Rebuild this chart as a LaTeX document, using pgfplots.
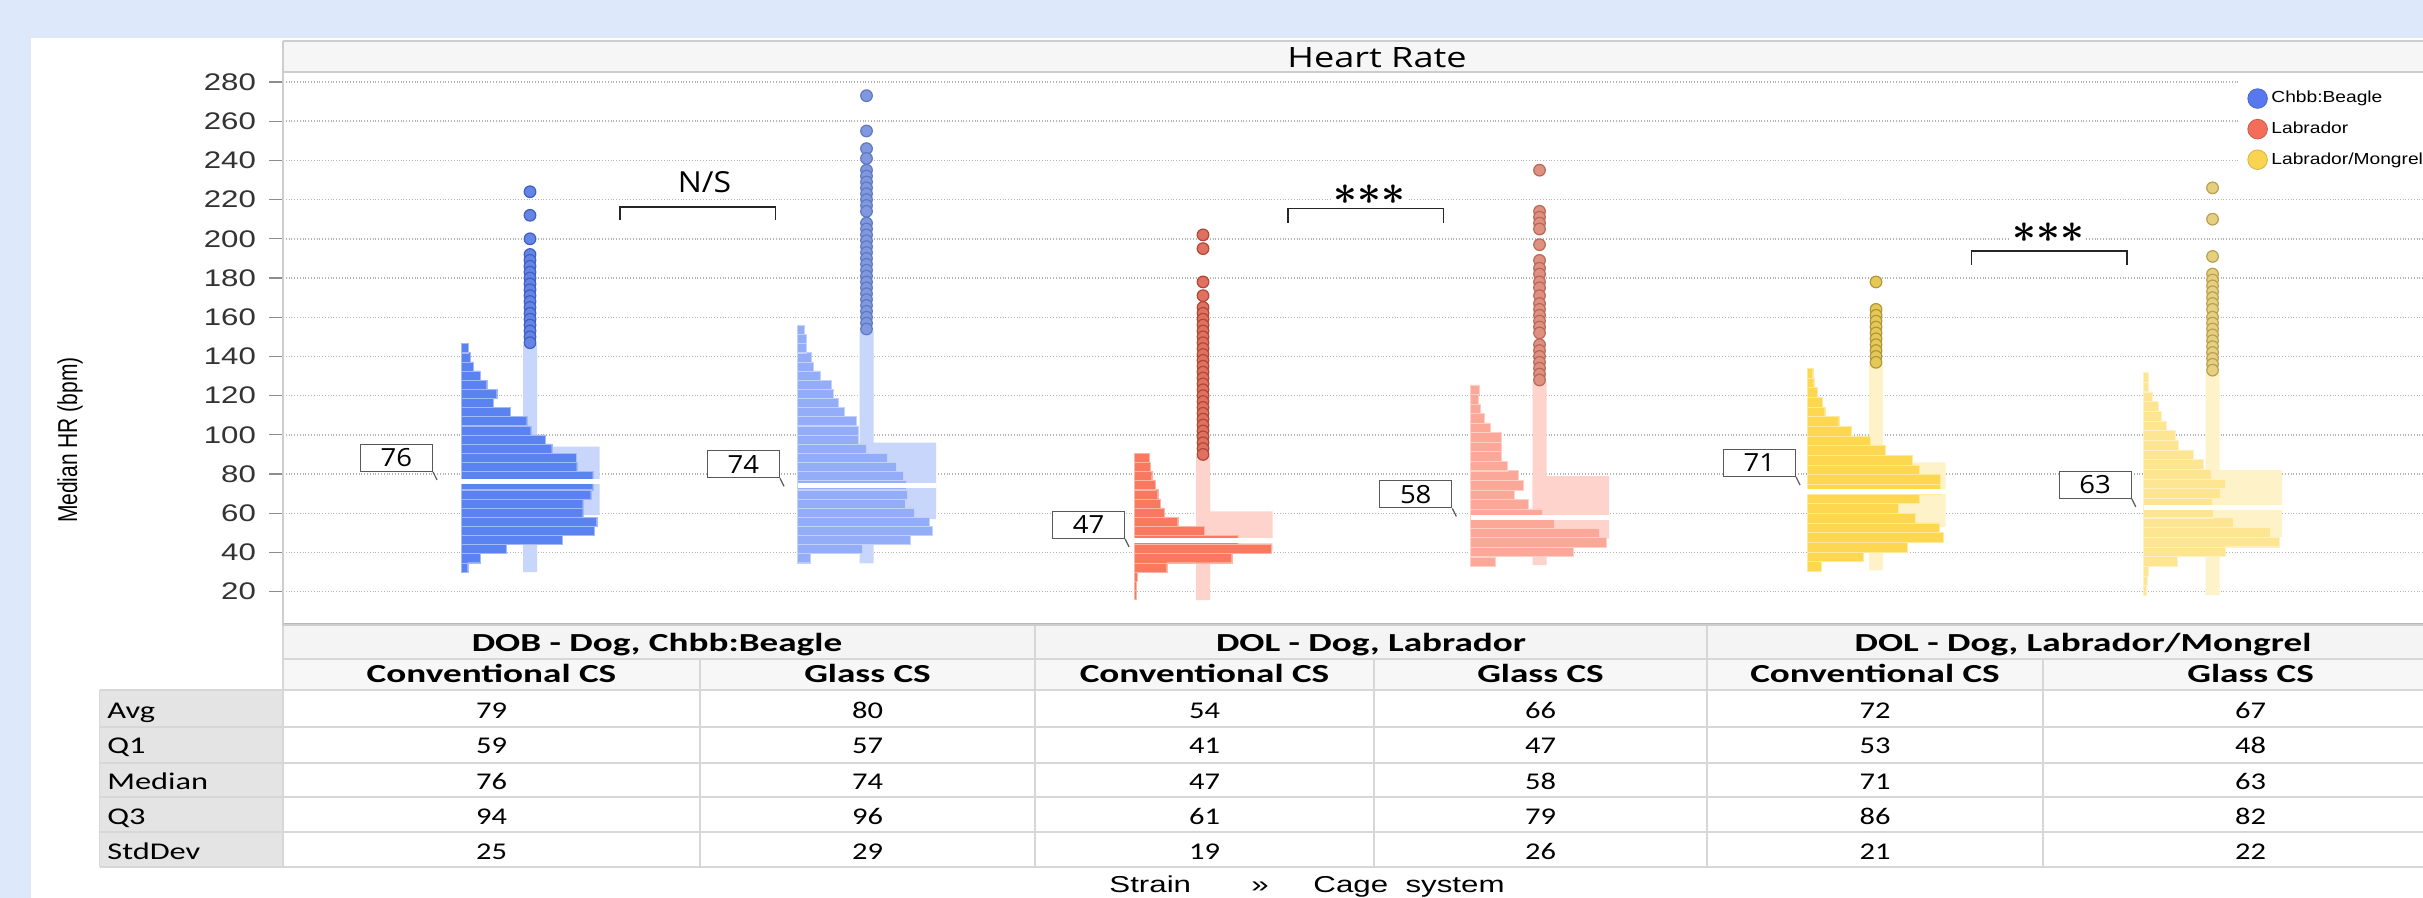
\documentclass[border=0pt]{standalone}
\usepackage{pgfplots}
\pgfplotsset{compat=1.18}
\usepackage{pgfplotstable}
\usepackage{fontspec}
\setmainfont{Liberation Sans}
\newfontfamily\osans{Open Sans}
\newfontfamily\calib{Carlito}
\newcommand{\hs}[2][1.35]{\scalebox{#1}[1]{#2}}
\newcommand{\fs}[1]{\fontsize{#1}{#1}\selectfont}

\definecolor{panelblue}{RGB}{221,233,251}
\definecolor{gridc}{RGB}{180,180,180}
\definecolor{framec}{RGB}{205,205,205}
\definecolor{titlec}{RGB}{246,246,246}
\definecolor{hdrc}{RGB}{244,244,244}
\definecolor{subc}{RGB}{247,247,247}
\definecolor{rowlab}{RGB}{228,228,228}
\definecolor{tline}{RGB}{215,215,215}
\definecolor{bCbar}{RGB}{90,130,240}
\definecolor{bGbar}{RGB}{148,173,248}
\definecolor{bBox}{RGB}{201,214,251}
\definecolor{bCpt}{RGB}{101,133,230}
\definecolor{bCptd}{RGB}{64,96,192}
\definecolor{bGpt}{RGB}{128,152,224}
\definecolor{bGptd}{RGB}{96,120,192}
\definecolor{lCbar}{RGB}{248,120,96}
\definecolor{lGbar}{RGB}{251,168,152}
\definecolor{lBox}{RGB}{253,211,203}
\definecolor{lCpt}{RGB}{224,112,96}
\definecolor{lCptd}{RGB}{176,72,56}
\definecolor{lGpt}{RGB}{224,144,128}
\definecolor{lGptd}{RGB}{184,104,88}
\definecolor{mCbar}{RGB}{253,215,79}
\definecolor{mGbar}{RGB}{254,229,146}
\definecolor{mBox}{RGB}{254,242,200}
\definecolor{mCpt}{RGB}{230,200,88}
\definecolor{mCptd}{RGB}{176,152,56}
\definecolor{mGpt}{RGB}{230,208,128}
\definecolor{mGptd}{RGB}{184,160,80}
\definecolor{legB}{RGB}{88,120,240}
\definecolor{legL}{RGB}{242,110,90}
\definecolor{legM}{RGB}{250,212,80}

\pgfplotstableread{
c l
32.4 6.7
37.1 19
41.7 45
46.4 101.3
51.0 133
55.7 135.7
60.4 121.7
65.0 121.7
69.7 129.7
74.3 131.7
79.0 131.7
83.7 115.7
88.3 115
93.0 90.7
97.6 84
102.3 69.7
107.0 65.7
111.6 49
116.3 32.3
120.9 35.7
125.6 25.7
130.3 19
134.9 12.3
139.6 9
144.2 7.3
}\hA
\pgfplotstableread{
c l
37.1 12.3
41.7 65
46.4 112.3
51.0 135
55.7 131.7
60.4 116.7
65.0 107.7
69.7 110
74.3 108.3
79.0 105.7
83.7 98.3
88.3 90
93.0 69
97.6 61
102.3 61
107.0 58.3
111.6 46.7
116.3 41
120.9 35.7
125.6 34
130.3 22.3
134.9 15.7
139.6 13.3
144.2 9
148.9 9
153.6 6.7
}\hB
\pgfplotstableread{
c l
18.4 2
23.1 2.5
27.7 3
32.4 32.7
37.1 97.7
41.7 137
46.4 103.7
51.0 70.3
55.7 43.7
60.4 30.3
65.0 26
69.7 23.7
74.3 21
79.0 17.7
83.7 16
88.3 15
}\hC
\pgfplotstableread{
c l
35.4 24.7
40.3 102.3
45.2 135.7
50.0 129
54.9 84
59.8 71.3
64.7 57.3
69.5 43.3
74.4 52.3
79.3 48
84.1 36.7
89.0 30.7
93.9 30.7
98.8 30.7
103.7 20
108.5 14
113.4 10
118.3 8
123.1 9
}\hD
\pgfplotstableread{
c l
32.9 14.3
37.8 56
42.8 100
47.7 135.7
52.6 132.3
57.6 107.7
62.5 91
67.4 111.7
72.3 133.3
77.3 133.3
82.2 111.7
87.1 105
92.1 78.3
97.0 63.3
101.9 44.3
106.9 31.7
111.8 17.7
116.7 15
121.7 10
126.6 6.7
131.5 5.7
}\hE
\pgfplotstableread{
c l
20.7 2.3
25.6 3.3
30.5 5
35.5 33.3
40.4 81.7
45.4 135.7
50.3 126.7
55.3 90
60.2 70
65.2 69
70.1 76.7
75.0 81.7
80.0 67.7
84.9 60
89.9 50
94.8 34.3
99.8 31.7
104.7 22.3
109.6 17.7
114.6 15
119.5 9
124.5 5
129.4 4.3
}\hF

\pgfplotsset{
  geom/.style={at={(141.5pt,136.5pt)}, anchor=south west, scale only axis,
     width=1078.5pt, height=276.5pt, ymin=3, ymax=285.1},
  grp/.style={geom, hide axis, clip=false},
  hist/.style={xbar, bar shift=0pt, bar width=#1, line width=0.2pt},
  boxp/.style={fill=#1, draw=none},
  pts/.style 2 args={only marks, mark=*, mark size=2.9pt,
     mark options={fill=#1, draw=#2, line width=0.6pt}},
  medl/.style={white, line width=2.6pt},
}
\tikzset{
  lbl/.style={draw=black!65, line width=0.6pt, fill=white, minimum width=36pt,
     minimum height=13.5pt, inner sep=0pt, font=\osans\fs{12.5}, anchor=south east},
  stars/.style={fill=white, inner sep=1pt, font=\fs{22}\boldmath},
}

\begin{document}
\begin{tikzpicture}
\path[use as bounding box] (0pt,0pt) rectangle (1211.5pt,449pt);
\begin{scope}
\clip (0pt,0pt) rectangle (1211.5pt,449pt);
\begin{scope}[x=0.5pt,y=0.5pt]
  \fill[panelblue] (0,0) rectangle (2423,898);
  \fill[white] (31,0) rectangle (2423,860);
  \fill[titlec] (283,826) rectangle (2440,857);
  \draw[framec, line width=1.2pt] (283,857) -- (2440,857);
  \draw[framec, line width=0.8pt] (283,826) -- (283,857);
  \node[font=\osans\fs{14}, anchor=base] at (1377,830) {\hs[1.29]{Heart Rate}};
  \node[rotate=90, font=\fs{10.5}] at (70,458) {\scalebox{1}[1.3]{Median HR (bpm)}};
  \fill[hdrc] (283,239) rectangle (2440,273);
  \fill[subc] (283,208) rectangle (2440,239);
  \fill[rowlab] (99.5,31) rectangle (283,208);
  \draw[black!28, line width=1.5pt] (283,273) -- (2440,273);
  \draw[tline, line width=1pt] (283,239) -- (2440,239);
  \draw[tline, line width=1.2pt] (99.5,208) -- (2440,208);
  \foreach \yy in {171,135,101,66,31} \draw[tline, line width=1.2pt] (99.5,\yy) -- (2440,\yy);
  \foreach \xx in {1035,1707} \draw[tline, line width=0.8pt] (\xx,273) -- (\xx,31);
  \foreach \xx in {700,1374,2043} \draw[tline, line width=0.8pt] (\xx,239) -- (\xx,31);
  \draw[tline, line width=0.8pt] (99.5,208) -- (99.5,31);
  \draw[tline, line width=0.8pt] (283,273) -- (283,31);
  \begin{scope}[every node/.style={anchor=base, font=\calib\bfseries\fs{13}}]
    \node at (657,246) {\hs[1.43]{DOB - Dog, Chbb:Beagle}};
    \node at (1371,246) {\hs[1.43]{DOL - Dog, Labrador}};
    \node at (2083,246) {\hs[1.43]{DOL - Dog, Labrador/Mongrel}};
    \node at (491.5,215.7) {\hs[1.43]{Conventional CS}};
    \node at (867.5,215.7) {\hs[1.43]{Glass CS}};
    \node at (1204.5,215.7) {\hs[1.43]{Conventional CS}};
    \node at (1540.5,215.7) {\hs[1.43]{Glass CS}};
    \node at (1875,215.7) {\hs[1.43]{Conventional CS}};
    \node at (2250.6,215.7) {\hs[1.43]{Glass CS}};
  \end{scope}
  \begin{scope}[every node/.style={anchor=base west, font=\calib\fs{12}, inner sep=0pt}]
    \node at (107,179) {\hs[1.35]{Avg}};
    \node at (107,144) {\hs[1.35]{Q1}};
    \node at (107,108.7) {\hs[1.35]{Median}};
    \node at (107,73.7) {\hs[1.35]{Q3}};
    \node at (107,38.7) {\hs[1.35]{StdDev}};
  \end{scope}
  \begin{scope}[every node/.style={anchor=base, font=\calib\fs{12}, inner sep=0pt}]
    \node at (491.5,179) {\hs[1.27]{79}};
    \node at (867.5,179) {\hs[1.27]{80}};
    \node at (1204.5,179) {\hs[1.27]{54}};
    \node at (1540.5,179) {\hs[1.27]{66}};
    \node at (1875,179) {\hs[1.27]{72}};
    \node at (2250.6,179) {\hs[1.27]{67}};
    \node at (491.5,144) {\hs[1.27]{59}};
    \node at (867.5,144) {\hs[1.27]{57}};
    \node at (1204.5,144) {\hs[1.27]{41}};
    \node at (1540.5,144) {\hs[1.27]{47}};
    \node at (1875,144) {\hs[1.27]{53}};
    \node at (2250.6,144) {\hs[1.27]{48}};
    \node at (491.5,108.7) {\hs[1.27]{76}};
    \node at (867.5,108.7) {\hs[1.27]{74}};
    \node at (1204.5,108.7) {\hs[1.27]{47}};
    \node at (1540.5,108.7) {\hs[1.27]{58}};
    \node at (1875,108.7) {\hs[1.27]{71}};
    \node at (2250.6,108.7) {\hs[1.27]{63}};
    \node at (491.5,73.7) {\hs[1.27]{94}};
    \node at (867.5,73.7) {\hs[1.27]{96}};
    \node at (1204.5,73.7) {\hs[1.27]{61}};
    \node at (1540.5,73.7) {\hs[1.27]{79}};
    \node at (1875,73.7) {\hs[1.27]{86}};
    \node at (2250.6,73.7) {\hs[1.27]{82}};
    \node at (491.5,38.7) {\hs[1.27]{25}};
    \node at (867.5,38.7) {\hs[1.27]{29}};
    \node at (1204.5,38.7) {\hs[1.27]{19}};
    \node at (1540.5,38.7) {\hs[1.27]{26}};
    \node at (1875,38.7) {\hs[1.27]{21}};
    \node at (2250.6,38.7) {\hs[1.27]{22}};
  \end{scope}
  \node[anchor=base west, font=\fs{11.5}, inner sep=0pt] at (1109,5) {\hs[1.36]{Strain}};
  \node[anchor=base west, font=\fs{11.5}, inner sep=0pt] at (1251,5) {\hs[1.36]{»}};
  \node[anchor=base west, font=\fs{11.5}, inner sep=0pt] at (1313,5) {\hs[1.36]{Cage\ \ system}};
\end{scope}

\begin{axis}[geom, xmin=283, xmax=2440,
  axis line style={draw=framec, line width=0.8pt},
  xtick=\empty, ytick={20,40,...,280},
  ytick pos=left, tick align=outside, major tick length=7pt,
  ytick style={draw=black!45, line width=0.6pt},
  ymajorgrids, grid style={densely dotted, draw=gridc, line width=0.7pt},
  /pgf/number format/assume math mode=true,
  yticklabel={\hs[1.3]{\pgfmathprintnumber{\tick}}},
  yticklabel style={font=\fs{12}, text=black!80, xshift=-3pt},
  legend cell align=left,
  legend style={at={(axis description cs:0.907,0.984)}, anchor=north west,
    draw=none, fill=white, inner xsep=4pt, inner ysep=3pt, font=\fs{8}, row sep=4pt},
]
\addlegendimage{only marks, mark=*, mark size=4.9pt, mark options={fill=legB, draw=legB!85!black, line width=0.4pt}}
\addlegendentry{\hs[1.2]{Chbb:Beagle}}
\addlegendimage{only marks, mark=*, mark size=4.9pt, mark options={fill=legL, draw=legL!85!black, line width=0.4pt}}
\addlegendentry{\hs[1.2]{Labrador}}
\addlegendimage{only marks, mark=*, mark size=4.9pt, mark options={fill=legM, draw=legM!85!black, line width=0.4pt}}
\addlegendentry{\hs[1.2]{Labrador/Mongrel}}
\addplot[black!85, line width=0.7pt] coordinates {(620,209.6) (620,216.3) (775.5,216.3) (775.5,209.6)};
\addplot[black!85, line width=0.7pt] coordinates {(1288,208.1) (1288,215.4) (1443.4,215.4) (1443.4,208.1)};
\addplot[black!85, line width=0.7pt] coordinates {(1971.5,186.7) (1971.5,193.8) (2127,193.8) (2127,186.7)};
\node[fill=white, inner sep=1pt, font=\osans\fs{14.5}] at (axis cs:704.5,228.8) {\hs[1.1]{N/S}};
\node[stars] at (axis cs:1369.5,222.7) {${\ast}{\ast}{\ast}$};
\node[stars] at (axis cs:2048.5,203.1) {${\ast}{\ast}{\ast}$};
\end{axis}

\begin{axis}[grp, xmin=-178, xmax=1979]
\addplot[boxp=bBox] coordinates {(62,30) (76,30) (76,146) (62,146) (62,30)};
\addplot[boxp=bBox] coordinates {(62,59) (138.5,59) (138.5,94) (62,94) (62,59)};
\addplot[hist=4.66, fill=bCbar, draw=bCbar!55!white] table[x=l,y=c] {\hA};
\addplot[medl] coordinates {(0,76) (138.5,76)};
\addplot[pts={bCpt}{bCptd}] coordinates {(69,224) (69,212) (69,200) (69,192) (69,189) (69,186) (69,183) (69,180) (69,177) (69,174) (69,171) (69,168) (69,165) (69,162) (69,159) (69,156) (69,153) (69,150) (69,147)};
\node[lbl] (L) at (axis cs:-28,81.1) {\hs[1.1]{76}};
\draw[black!65, line width=0.6pt] (L.south east) -- ++(2pt,-4pt);
\end{axis}

\begin{axis}[grp, xmin=-514.5, xmax=1642.5]
\addplot[boxp=bBox] coordinates {(62,34.4) (76,34.4) (76,153) (62,153) (62,34.4)};
\addplot[boxp=bBox] coordinates {(62,57) (138.5,57) (138.5,96) (62,96) (62,57)};
\addplot[hist=4.66, fill=bGbar, draw=bGbar!55!white] table[x=l,y=c] {\hB};
\addplot[medl] coordinates {(0,74) (138.5,74)};
\addplot[pts={bGpt}{bGptd}] coordinates {(69,273) (69,255) (69,246) (69,241) (69,235) (69,232) (69,229) (69,226) (69,223) (69,220) (69,217) (69,214) (69,208) (69,205) (69,202) (69,199) (69,196) (69,193) (69,190) (69,187) (69,184) (69,181) (69,178) (69,175) (69,172) (69,169) (69,166) (69,163) (69,160) (69,157) (69,154)};
\node[lbl] (L) at (axis cs:-17.5,77.8) {\hs[1.1]{74}};
\draw[black!65, line width=0.6pt] (L.south east) -- ++(2pt,-4pt);
\end{axis}

\begin{axis}[grp, xmin=-851, xmax=1306]
\addplot[boxp=lBox] coordinates {(62,15.7) (76,15.7) (76,89) (62,89) (62,15.7)};
\addplot[boxp=lBox] coordinates {(62,41) (138.5,41) (138.5,61) (62,61) (62,41)};
\addplot[hist=4.66, fill=lCbar, draw=lCbar!55!white] table[x=l,y=c] {\hC};
\addplot[medl] coordinates {(0,46.3) (138.5,46.3)};
\addplot[pts={lCpt}{lCptd}] coordinates {(69,202) (69,195) (69,178) (69,171) (69,165) (69,162) (69,159) (69,156) (69,153) (69,150) (69,147) (69,144) (69,141) (69,138) (69,135) (69,132) (69,129) (69,126) (69,123) (69,120) (69,117) (69,114) (69,111) (69,108) (69,105) (69,102) (69,99) (69,96) (69,93) (69,90)};
\node[lbl] (L) at (axis cs:-8.9,46.9) {\hs[1.1]{47}};
\draw[black!65, line width=0.6pt] (L.south east) -- ++(2pt,-4pt);
\end{axis}

\begin{axis}[grp, xmin=-1187.5, xmax=969.5]
\addplot[boxp=lBox] coordinates {(62,33.6) (76,33.6) (76,127) (62,127) (62,33.6)};
\addplot[boxp=lBox] coordinates {(62,47) (138.5,47) (138.5,79) (62,79) (62,47)};
\addplot[hist=4.87, fill=lGbar, draw=lGbar!55!white] table[x=l,y=c] {\hD};
\addplot[medl] coordinates {(0,58) (138.5,58)};
\addplot[pts={lGpt}{lGptd}] coordinates {(69,235) (69,214) (69,211) (69,208) (69,205) (69,197) (69,189) (69,185) (69,182) (69,178) (69,175) (69,171) (69,167) (69,164) (69,161) (69,158) (69,155) (69,152) (69,146) (69,143) (69,140) (69,137) (69,134) (69,131) (69,128)};
\node[lbl] (L) at (axis cs:-18.2,62.5) {\hs[1.1]{58}};
\draw[black!65, line width=0.6pt] (L.south east) -- ++(2pt,-4pt);
\end{axis}

\begin{axis}[grp, xmin=-1524, xmax=633]
\addplot[boxp=mBox] coordinates {(62,30.8) (76,30.8) (76,136) (62,136) (62,30.8)};
\addplot[boxp=mBox] coordinates {(62,53) (138.5,53) (138.5,86) (62,86) (62,53)};
\addplot[hist=4.93, fill=mCbar, draw=mCbar!55!white] table[x=l,y=c] {\hE};
\addplot[medl] coordinates {(0,71) (138.5,71)};
\addplot[pts={mCpt}{mCptd}] coordinates {(69,178) (69,164) (69,161) (69,158) (69,155) (69,152) (69,149) (69,146) (69,143) (69,140) (69,137)};
\node[lbl] (L) at (axis cs:-11,78.5) {\hs[1.1]{71}};
\draw[black!65, line width=0.6pt] (L.south east) -- ++(2pt,-4pt);
\end{axis}

\begin{axis}[grp, xmin=-1860.5, xmax=296.5]
\addplot[boxp=mBox] coordinates {(62,18.2) (76,18.2) (76,132) (62,132) (62,18.2)};
\addplot[boxp=mBox] coordinates {(62,48) (138.5,48) (138.5,82) (62,82) (62,48)};
\addplot[hist=4.94, fill=mGbar, draw=mGbar!55!white] table[x=l,y=c] {\hF};
\addplot[medl] coordinates {(0,63) (138.5,63)};
\addplot[pts={mGpt}{mGptd}] coordinates {(69,226) (69,210) (69,191) (69,182) (69,179) (69,176) (69,173) (69,170) (69,167) (69,164) (69,160) (69,157) (69,154) (69,151) (69,148) (69,145) (69,142) (69,139) (69,136) (69,133)};
\node[lbl] (L) at (axis cs:-11.8,67.4) {\hs[1.1]{63}};
\draw[black!65, line width=0.6pt] (L.south east) -- ++(2pt,-4pt);
\end{axis}
\end{scope}
\end{tikzpicture}
\end{document}
